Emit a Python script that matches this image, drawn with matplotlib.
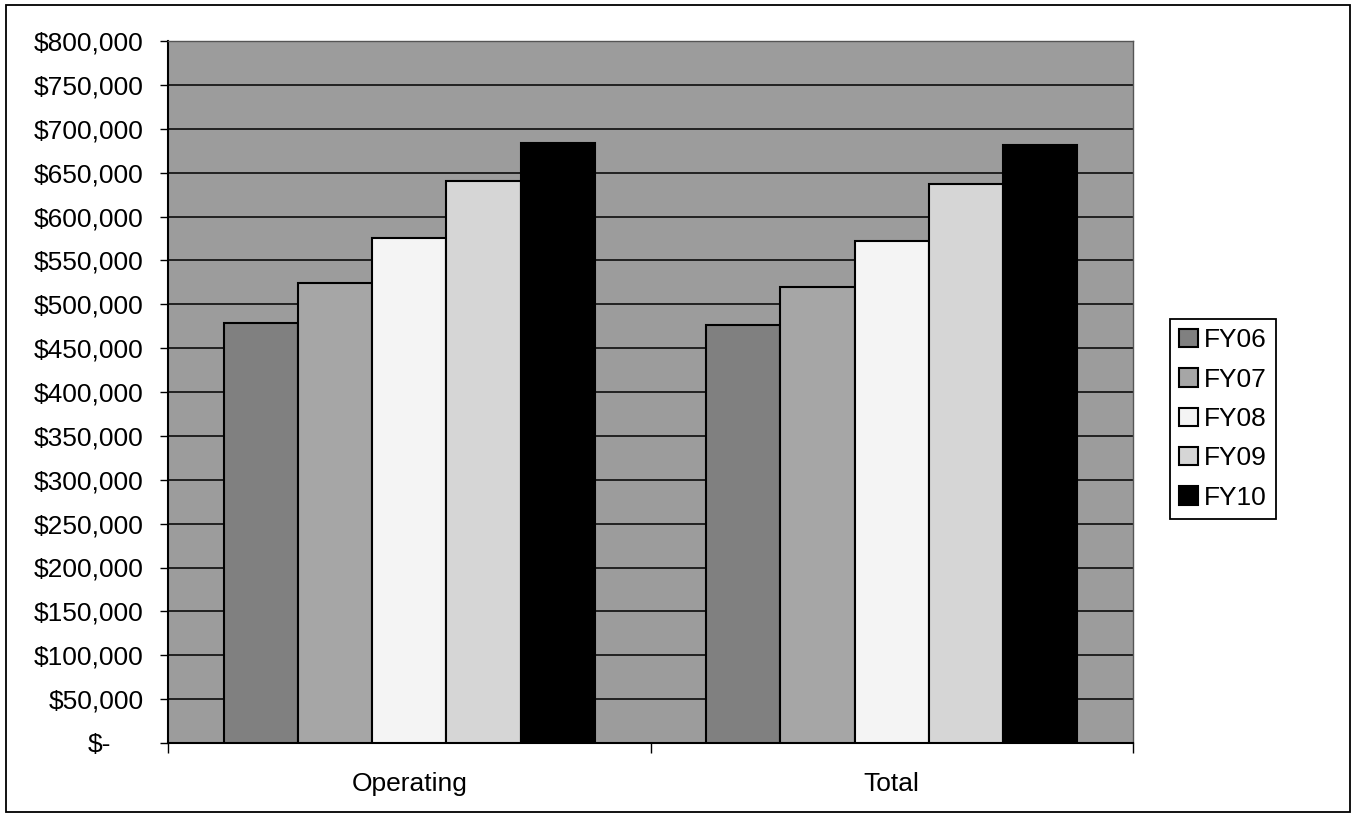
import matplotlib.pyplot as plt
import numpy as np
from matplotlib.ticker import FuncFormatter, FixedLocator
from matplotlib.patches import Rectangle
from matplotlib.transforms import ScaledTranslation

plt.rcParams['font.family'] = ['Liberation Sans', 'DejaVu Sans']

# dane budzetowe
kategorie = ['Operating', 'Total']
lata = ['FY06', 'FY07', 'FY08', 'FY09', 'FY10']
fy06 = [479000, 476000]
fy07 = [524000, 520000]
fy08 = [576000, 572000]
fy09 = [640000, 637000]
fy10 = [684000, 681000]
serie = [fy06, fy07, fy08, fy09, fy10]
kolory = ['#808080', '#a6a6a6', '#f4f4f4', '#d6d6d6', '#000000']

fig = plt.figure(figsize=(13.55, 8.18), dpi=100)
ax = fig.add_axes([168 / 1355, 1 - 743 / 818, 965 / 1355, 702 / 818])
ax.set_facecolor('#9c9c9c')

szer = 1 / 6.5
x = np.arange(len(kategorie))
for i, (dane, kolor, rok) in enumerate(zip(serie, kolory, lata)):
    ax.bar(x + (i - 2) * szer, dane, szer, color=kolor, edgecolor='black',
           linewidth=1.5, label=rok, zorder=3)

ax.set_xlim(-0.5, 1.5)
ax.set_ylim(0, 800000)
ax.set_yticks(np.arange(0, 800001, 50000))

def format_dolary(v, pos):
    if v == 0:
        return '$-'
    return '${:,.0f}'.format(v)

ax.yaxis.set_major_formatter(FuncFormatter(format_dolary))
ax.yaxis.grid(True, color='black', linewidth=1.1, zorder=0)
ax.set_axisbelow(True)

ax.set_xticks(x)
ax.set_xticklabels(kategorie)
ax.xaxis.set_minor_locator(FixedLocator([-0.5, 0.5, 1.5]))
ax.tick_params(axis='x', which='major', length=0, pad=21, labelsize=19)
ax.tick_params(axis='x', which='minor', length=7, width=1, direction='out')
ax.tick_params(axis='y', length=6, width=1, direction='out', pad=11.5, labelsize=19)

for s in ['left', 'bottom']:
    ax.spines[s].set_color('black')
    ax.spines[s].set_linewidth(1.5)
for s in ['top', 'right']:
    ax.spines[s].set_color('#555555')
    ax.spines[s].set_linewidth(1)

# etykieta zera przesunieta jak w formacie ksiegowym
fig.canvas.draw()
for lab in ax.get_yticklabels():
    if lab.get_text() == '$-':
        lab.set_transform(lab.get_transform() + ScaledTranslation(-0.33, 0, fig.dpi_scale_trans))

leg = fig.legend(loc='center left', bbox_to_anchor=(1170 / 1355, 1 - 419 / 818),
                 fontsize=19, frameon=True, fancybox=False, borderaxespad=0,
                 handlelength=0.72, handleheight=0.7, handletextpad=0.2,
                 labelspacing=0.58, borderpad=0.35)
leg.get_frame().set_edgecolor('black')
leg.get_frame().set_linewidth(1.3)
leg.get_frame().set_alpha(1)

# ramka calego wykresu
ramka = Rectangle((6 / 1355, 1 - 812 / 818), 1344 / 1355, 807 / 818,
                  transform=fig.transFigure, fill=False, edgecolor='black', linewidth=1.3)
fig.patches.append(ramka)

plt.savefig('out.png', dpi=100)
